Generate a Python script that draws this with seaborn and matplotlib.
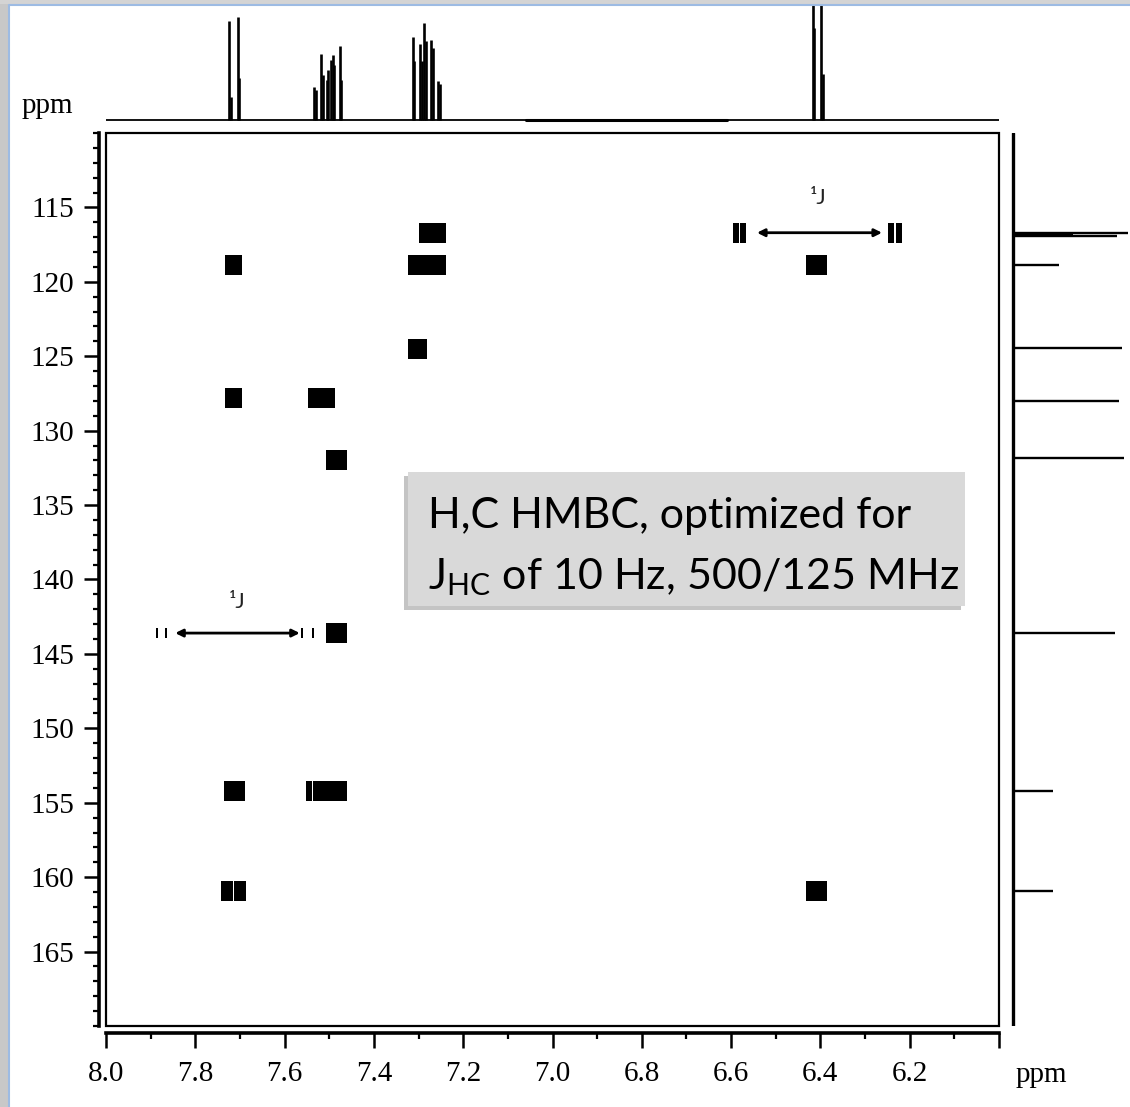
import numpy as np
import pandas as pd
import seaborn as sns
import matplotlib.pyplot as plt
from matplotlib.path import Path
from matplotlib.patches import Rectangle
from matplotlib.lines import Line2D

# 1H trace on top (line positions in ppm, heights in px above baseline)
h_lines = [7.725, 7.720, 7.705, 7.702,
           7.534, 7.530, 7.519, 7.515, 7.506, 7.502, 7.497, 7.492, 7.489, 7.477, 7.474,
           7.313, 7.310, 7.297, 7.292, 7.288, 7.284, 7.271, 7.267, 7.256, 7.253,
           6.417, 6.415, 6.399, 6.394]
h_heights = [99, 23, 103, 42,
             33, 30, 66, 45, 40, 50, 60, 65, 55, 74, 40,
             83, 59, 76, 59, 97, 79, 80, 72, 39, 36,
             140, 92, 140, 46]

# 13C trace on the right (ppm, length in px)
c_lines = [116.69, 116.79, 116.89, 118.84, 124.46, 127.98, 131.84, 143.6, 154.2, 160.9]
c_heights = [115, 60, 104, 46, 109, 106, 111, 102, 40, 40]

# HMBC cross peaks: carbon shift -> proton multiplet components
cross_c = [118.9, 127.8, 154.2, 160.9,
           127.8, 131.95, 143.6, 154.2,
           118.9, 116.7, 124.5,
           118.9, 160.9]
cross_h = [[7.726, 7.714, 7.702],
           [7.727, 7.715, 7.703],
           [7.728, 7.716, 7.704, 7.696],
           [7.735, 7.722, 7.707, 7.694],
           [7.540, 7.527, 7.515, 7.503, 7.494],
           [7.500, 7.488, 7.476, 7.468],
           [7.500, 7.488, 7.476, 7.468],
           [7.545, 7.530, 7.518, 7.505, 7.492, 7.478, 7.468],
           [7.316, 7.303, 7.290, 7.278, 7.266, 7.252, 7.246],
           [7.292, 7.280, 7.268, 7.256, 7.246],
           [7.318, 7.306, 7.294, 7.288],
           [6.425, 6.413, 6.400, 6.392],
           [6.425, 6.413, 6.400, 6.392]]

# one-bond (1J) satellites
sat_c = [116.7, 116.7, 116.7, 116.7]
sat_h = [6.588, 6.574, 6.241, 6.224]
weak_c = [143.6, 143.6, 143.6, 143.6]
weak_h = [7.886, 7.866, 7.562, 7.537]
arrow_h = [(6.542, 6.262), (7.845, 7.566)]
arrow_c = [116.7, 143.6]
label_pos = [(6.405, 114.4), (7.707, 141.5)]

x_ticks = [8.0, 7.8, 7.6, 7.4, 7.2, 7.0, 6.8, 6.6, 6.4, 6.2, 6.0]
x_labels = ["8.0", "7.8", "7.6", "7.4", "7.2", "7.0", "6.8", "6.6", "6.4", "6.2", ""]
y_ticks = [115, 120, 125, 130, 135, 140, 145, 150, 155, 160, 165]

W, H = 1130, 1107

sns.set_theme(style="ticks", rc={"axes.edgecolor": "black", "xtick.color": "black",
                                 "ytick.color": "black", "text.color": "black"})
plt.rcParams['font.family'] = ['Liberation Serif', 'DejaVu Serif']
plt.rcParams['mathtext.fontset'] = 'custom'
plt.rcParams['mathtext.rm'] = 'Lato'

fig = plt.figure(figsize=(W / 100, H / 100), dpi=100)


def fx(px):
    return px / W


def fy(py):
    return 1 - py / H


ax = fig.add_axes([fx(106), fy(1026), fx(893), 893 / H])
ax_top = fig.add_axes([fx(106), fy(124), fx(893), 124 / H], sharex=ax)
ax_right = fig.add_axes([fx(1005), fy(1026), fx(125), 893 / H], sharey=ax)

# cross peaks
rows = []
for c, hs in zip(cross_c, cross_h):
    for h in hs:
        rows.append({"H": h, "C": c})
peaks = pd.DataFrame(rows)
sats = pd.DataFrame({"H": sat_h, "C": sat_c})
weak = pd.DataFrame({"H": weak_h, "C": weak_c})

bar = Path([(-0.145, -0.5), (0.145, -0.5), (0.145, 0.5), (-0.145, 0.5), (-0.145, -0.5)],
           [Path.MOVETO, Path.LINETO, Path.LINETO, Path.LINETO, Path.CLOSEPOLY])
thin = Path([(-0.12, -0.5), (0.12, -0.5), (0.12, 0.5), (-0.12, 0.5), (-0.12, -0.5)],
            [Path.MOVETO, Path.LINETO, Path.LINETO, Path.LINETO, Path.CLOSEPOLY])

sns.scatterplot(data=peaks, x="H", y="C", marker=bar, s=228, color="black",
                linewidth=0, ax=ax, legend=False)
sns.scatterplot(data=sats, x="H", y="C", marker=bar, s=200, color="black",
                linewidth=0, ax=ax, legend=False)
sns.scatterplot(data=weak, x="H", y="C", marker=thin, s=45, color="black",
                linewidth=0, ax=ax, legend=False)

for (h0, h1), c in zip(arrow_h, arrow_c):
    ax.annotate("", xy=(h1, c), xytext=(h0, c),
                arrowprops=dict(arrowstyle="<|-|>", lw=2, color="black",
                                mutation_scale=11, shrinkA=0, shrinkB=0))
for x, y in label_pos:
    ax.text(x, y, "¹J", fontsize=16, family=['Lato', 'DejaVu Sans'], color="#222222",
            ha="center", va="center")

ax.set_xlim(8.0, 6.0)
ax.set_ylim(170, 110)
ax.set_xticks(x_ticks, labels=x_labels)
ax.set_yticks(y_ticks, labels=[str(v) for v in y_ticks])
ax.set_xticks(np.arange(6.0, 8.01, 0.1), minor=True)
ax.set_yticks(np.arange(110, 171, 1), minor=True)
ax.tick_params(which="major", direction="out", length=11, width=1.8, labelsize=21, pad=7)
ax.tick_params(axis="x", which="major", pad=9)
ax.tick_params(which="minor", direction="out", length=4.5, width=1.6)
ax.set_xlabel("")
ax.set_ylabel("")
for side in ["top", "right"]:
    ax.spines[side].set_visible(False)
for side in ["left", "bottom"]:
    ax.spines[side].set_position(("outward", 5))
    ax.spines[side].set_linewidth(2.6)
ax.add_patch(Rectangle((0, 0), 1, 1, transform=ax.transAxes, fill=False,
                       lw=1.6, edgecolor="black", clip_on=False, zorder=5))

# top 1H trace
ax_top.plot([8.0, 6.0], [0, 0], color="black", lw=1.3)
ax_top.plot([7.06, 6.61], [0, 0], color="black", lw=2.2)
ax_top.vlines(h_lines, 0, h_heights, color="black", lw=1.9)
ax_top.set_ylim(-4, 120)
ax_top.axis("off")

# right 13C trace
ax_right.plot([0, 0], [110, 170], color="black", lw=2.4)
ax_right.hlines(c_lines, 0, c_heights, color="black", lw=1.7)
ax_right.set_xlim(-8, 117)
ax_right.axis("off")

fig.text(fx(22), fy(106), "ppm", fontsize=21, ha="left", va="center")
fig.text(fx(1016), fy(1075), "ppm", fontsize=21, ha="left", va="center")

# annotation box
fig.add_artist(Rectangle((fx(404), fy(610)), fx(557), 134 / H, transform=fig.transFigure,
                         facecolor="#8a8a8a", edgecolor="none", alpha=0.5, zorder=6))
fig.add_artist(Rectangle((fx(408), fy(606)), fx(557), 134 / H, transform=fig.transFigure,
                         facecolor="#d9d9d9", edgecolor="none", zorder=7))
fig.text(fx(428), fy(528), "H,C HMBC, optimized for", fontsize=31,
         family=['Lato', 'DejaVu Sans'], ha="left", va="baseline", zorder=8)
fig.text(fx(428), fy(589), r"J$_{\mathrm{HC}}$ of 10 Hz, 500/125 MHz", fontsize=31,
         family=['Lato', 'DejaVu Sans'], ha="left", va="baseline", zorder=8)

# window frame of the screenshot
fig.add_artist(Rectangle((0, 0), fx(8), 1, transform=fig.transFigure,
                         facecolor="#c8c8c8", edgecolor="none"))
fig.add_artist(Rectangle((0, fy(4)), 1, 4 / H, transform=fig.transFigure,
                         facecolor="#d4d4d4", edgecolor="none"))
fig.add_artist(Line2D([fx(9), fx(9)], [0, fy(5)], transform=fig.transFigure,
                      color="#9dbbe3", lw=1.5))
fig.add_artist(Line2D([fx(9), 1], [fy(5), fy(5)], transform=fig.transFigure,
                      color="#9dbbe3", lw=1.5))

fig.savefig("out.png", dpi=100)
